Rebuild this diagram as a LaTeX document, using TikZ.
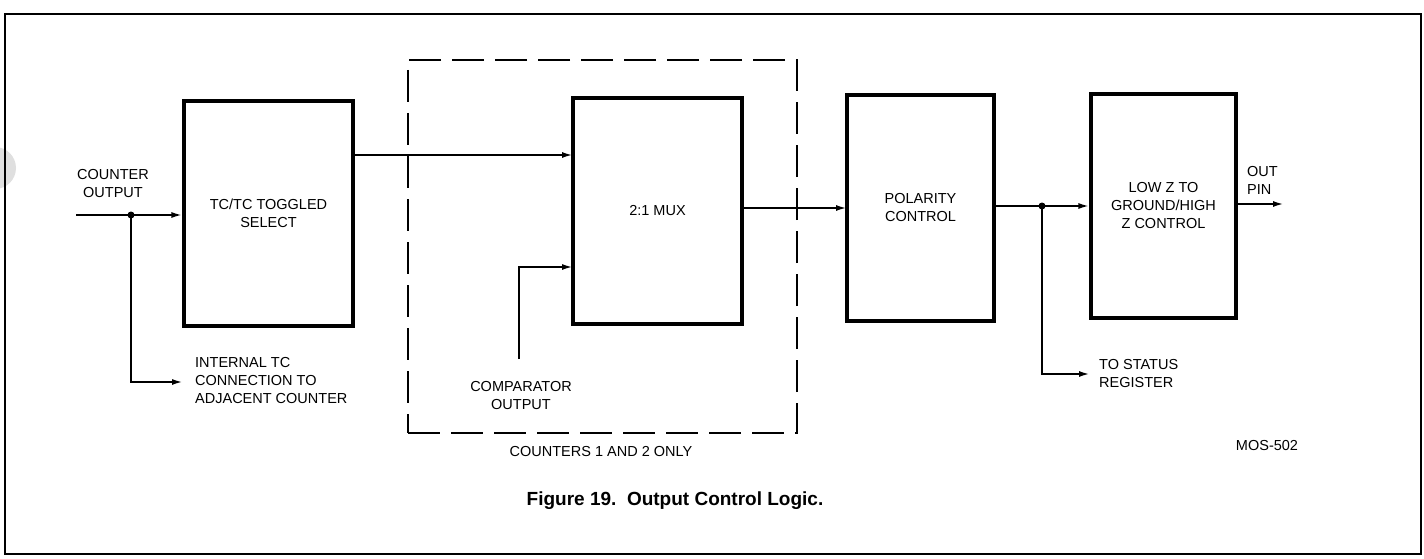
\documentclass[tikz,border=0pt]{standalone}
\usepackage{fontspec}
\setmainfont{Liberation Sans}
\usetikzlibrary{arrows.meta}
\tikzset{
  blk/.style={draw, line width=3.2pt, inner sep=0pt, align=center, font=\lbl},
  wire/.style={line width=2pt},
  arr/.style={wire, -{Latex[length=11pt,width=6pt]}},
  lab/.style={inner sep=0pt, font=\lbl},
  dot/.style={circle, fill, inner sep=0pt, minimum size=7pt},
  grp/.style={draw, line width=1.8pt, dash pattern=on 32pt off 11pt, inner sep=0pt}
}
\newcommand{\lbl}{\fontsize{14.5}{18}\selectfont}
\begin{document}
\begin{tikzpicture}[x=1pt,y=-1pt]
\useasboundingbox (0,0) rectangle (1424,559);
% scan hole
\fill[gray!25] (-5,168) circle (21);
% outer frame
\draw[line width=1.4pt] (5,14) rectangle (1421,554);

% group
\node[grp, minimum width=389pt, minimum height=373pt] (grp) at (602.5,246.5) {};

% blocks
\node[blk, minimum width=169pt, minimum height=225pt] (tc) at (268.5,213.5) {TC/TC TOGGLED\\SELECT};
\node[blk, minimum width=169pt, minimum height=226pt] (mux) at (657.5,211) {2:1 MUX};
\node[blk, minimum width=147pt, minimum height=226pt] (pol) at (920.5,208) {POLARITY\\CONTROL};
\node[blk, minimum width=145pt, minimum height=224pt] (low) at (1163.5,206) {LOW Z TO\\GROUND/HIGH\\Z CONTROL};

% labels
\node[lab, align=center] (cnt) at (113,184) {COUNTER\\OUTPUT};
\node[lab, align=left, anchor=west] (itc) at (195,381) {INTERNAL TC\\CONNECTION TO\\ADJACENT COUNTER};
\node[lab, align=center] (cmpl) at (521,396) {COMPARATOR\\OUTPUT};
\node[lab, align=left, anchor=west] (stl) at (1099,374) {TO STATUS\\REGISTER};
\node[lab, align=left, anchor=west] (outl) at (1247,180) {OUT\\PIN};
\node[lab] (grpl) at (601,452) {COUNTERS 1 AND 2 ONLY};
\node[lab] (mos) at (1267,446) {MOS-502};
\node[inner sep=0pt, font=\fontsize{19}{22}\selectfont\bfseries] (cap) at (675,501) {Figure 19.\ \ Output Control Logic.};

% coordinates
\coordinate (cin) at (76,215);
\coordinate (j1) at (131,215);
\coordinate (itcend) at (183,382);
\coordinate (m1) at (573,155);
\coordinate (cmp) at (519,359);
\coordinate (m2) at (573,267);
\coordinate (p1) at (847,208);
\coordinate (j2) at (1042,206);
\coordinate (stend) at (1090,374);
\coordinate (oy) at (1236,204);
\coordinate (oend) at (1284,204);

% connectors
\draw[arr] (cin) -- (j1 -| tc.west);
\node[dot] (d1) at (j1) {};
\draw[arr] (j1) |- (itcend);
\draw[arr] (m1 -| tc.east) -- (m1);
\draw[arr] (cmp) |- (m2);
\draw[arr] (p1 -| mux.east) -- (p1);
\draw[wire] (j2 -| pol.east) -- (j2);
\draw[arr] (j2) -- (j2 -| low.west);
\node[dot] (d2) at (j2) {};
\draw[arr] (j2) |- (stend);
\draw[arr] (oy -| low.east) -- (oend);
\end{tikzpicture}
\end{document}
